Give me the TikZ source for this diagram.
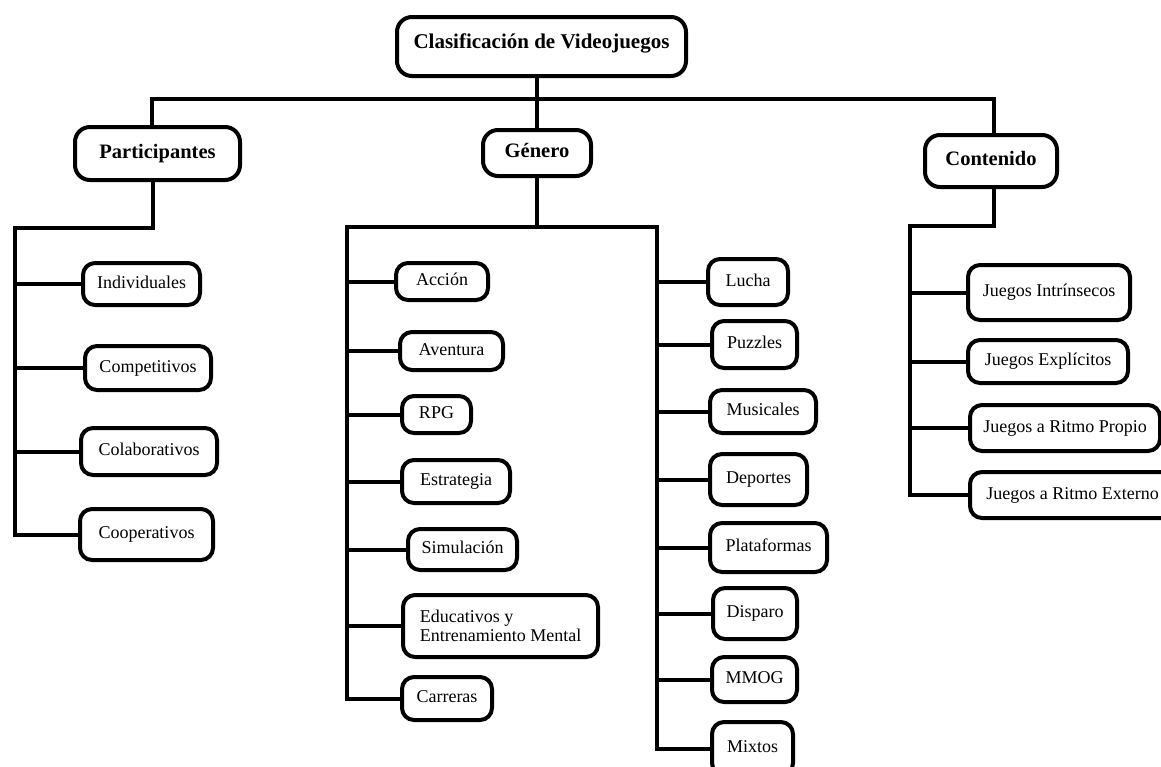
\documentclass[tikz,border=0pt]{standalone}
\usepackage{fontspec}
\setmainfont{Liberation Serif}

\tikzset{
  caja/.style={draw,line width=4pt,rounded corners=12pt,fill=white,
    font=\fontsize{18}{19}\selectfont},
  hoja/.style={caja,text height=12pt,text depth=4pt},
  rama/.style={caja,rounded corners=15pt,text height=14pt,text depth=5pt,
    font=\fontsize{20.5}{24}\selectfont\bfseries},
  linea/.style={line width=4pt}
}

\begin{document}
\begin{tikzpicture}[x=1pt,y=-1pt]
\path[use as bounding box,clip] (0,0) rectangle (1161,766);

% cabecera y ramas
\node[rama,minimum width=289,minimum height=59,text depth=10pt,font=\fontsize{21}{24}\selectfont\bfseries] (raiz) at (541.5,46.5) {Clasificación de Videojuegos};
\node[rama,minimum width=165,minimum height=53] (part) at (157.5,153.5) {Participantes};
\node[rama,minimum width=108,minimum height=46] (gen) at (537,153) {Género};
\node[rama,minimum width=132,minimum height=52] (cont) at (991,161) {Contenido};

% participantes
\node[hoja,minimum width=117,minimum height=42] (indiv) at (141.5,284) {Individuales};
\node[hoja,minimum width=126,minimum height=44] (compet) at (148,368) {Competitivos};
\node[hoja,minimum width=136,minimum height=47] (colab) at (149,451.5) {Colaborativos};
\node[hoja,minimum width=133,minimum height=51] (coop) at (146.5,534.5) {Cooperativos};

% genero, columna izquierda
\node[hoja,minimum width=92,minimum height=37] (accion) at (442,281.5) {Acción};
\node[hoja,minimum width=103,minimum height=38] (aventura) at (451.5,351) {Aventura};
\node[hoja,minimum width=69,minimum height=37] (rpg) at (436.5,414.5) {RPG};
\node[hoja,minimum width=108,minimum height=43] (estrategia) at (456,481.5) {Estrategia};
\node[hoja,minimum width=109,minimum height=41] (simulacion) at (462.5,549.5) {Simulación};
\node[caja,align=left,minimum width=195,minimum height=62] (educativos) at (500.5,626) {Educativos y\\Entrenamiento Mental};
\node[hoja,minimum width=90,minimum height=43] (carreras) at (447,698.5) {Carreras};

% genero, columna derecha
\node[hoja,minimum width=80,minimum height=46] (lucha) at (748,282) {Lucha};
\node[hoja,minimum width=85,minimum height=47] (puzzles) at (754.5,344.5) {Puzzles};
\node[hoja,minimum width=106,minimum height=43] (musicales) at (763,411.5) {Musicales};
\node[hoja,minimum width=97,minimum height=51] (deportes) at (758.5,479.5) {Deportes};
\node[hoja,minimum width=117,minimum height=49] (plataformas) at (768.5,547.5) {Plataformas};
\node[hoja,minimum width=84,minimum height=51] (disparo) at (755,613.5) {Disparo};
\node[hoja,minimum width=85,minimum height=45] (mmog) at (754.5,679.5) {MMOG};
\node[hoja,minimum width=81,minimum height=53] (mixtos) at (752.5,748.5) {Mixtos};

% contenido
\node[hoja,minimum width=162,minimum height=55] (intrinsecos) at (1049,292.5) {Juegos Intrínsecos};
\node[hoja,minimum width=160,minimum height=43] (explicitos) at (1048,361.5) {Juegos Explícitos};
\node[hoja,minimum width=190,minimum height=46] (propio) at (1065,428) {Juegos a Ritmo Propio};
\node[hoja,minimum width=205,minimum height=46] (externo) at (1072.5,495) {Juegos a Ritmo Externo};

% conectores
\coordinate (barra) at (537,99);
\draw[linea] (raiz.south -| gen.north) -- (gen.north);
\draw[linea] ([xshift=-6pt]part.north) -- ([xshift=-6pt]part.north |- barra) -- ([xshift=3pt]cont.north |- barra) -- ([xshift=3pt]cont.north);

\coordinate (pesq) at (15,228);
\draw[linea] ([xshift=-5pt]part.south) |- (pesq) -- (pesq |- coop.west) -- (coop.west);
\foreach \n in {indiv,compet,colab}
  \draw[linea] (pesq |- \n.west) -- (\n.west);

\coordinate (gizq) at (347,227);
\coordinate (gder) at (657,227);
\draw[linea] (gen.south) -- (gen.south |- gizq);
\draw[linea] (carreras.west) -- (gizq |- carreras.west) -- (gizq) -- (gder) -- (gder |- mixtos.west) -- (mixtos.west);
\foreach \n in {accion,aventura,rpg,estrategia,simulacion,educativos}
  \draw[linea] (gizq |- \n.west) -- (\n.west);
\foreach \n in {lucha,puzzles,musicales,deportes,plataformas,disparo,mmog}
  \draw[linea] (gder |- \n.west) -- (\n.west);

\coordinate (cesq) at (910,226);
\draw[linea] ([xshift=3pt]cont.south) |- (cesq) -- (cesq |- externo.west) -- (externo.west);
\foreach \n in {intrinsecos,explicitos,propio}
  \draw[linea] (cesq |- \n.west) -- (\n.west);
\end{tikzpicture}
\end{document}
